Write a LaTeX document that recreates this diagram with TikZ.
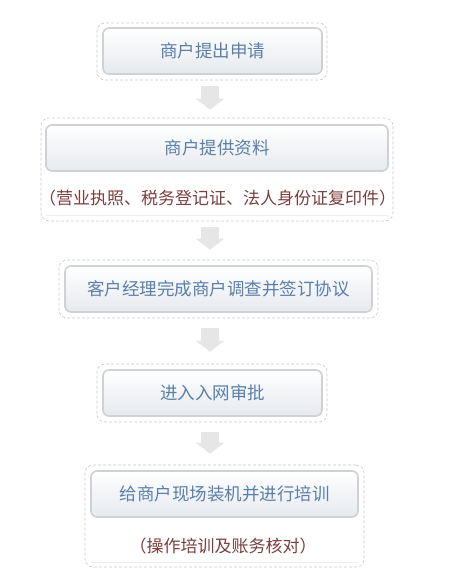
\documentclass[tikz,border=0pt]{standalone}
\usepackage{fontspec}
\newfontfamily\cjk{Noto Sans CJK SC}
\usepackage{tikz}
\usetikzlibrary{calc,arrows.meta}
\definecolor{stepblue}{HTML}{5A80AA}
\definecolor{notered}{HTML}{7A3E3E}
\definecolor{dashgray}{HTML}{C8C8C8}
\definecolor{edgegray}{HTML}{CFD1D5}
\definecolor{boxbottom}{HTML}{E6E9EE}
\definecolor{arrowgray}{HTML}{E6E6E6}
\definecolor{linegray}{HTML}{EEEEEE}

\begin{document}
\begin{tikzpicture}[x=1pt,y=-1pt,
       outerbox/.style={draw=dashgray,dash pattern=on 3pt off 2pt,line width=0.6pt,
           rounded corners=8pt,minimum width=#1},
       stepbox/.style={draw=edgegray,line width=1.6pt,rounded corners=6pt,
           top color=white,bottom color=boxbottom,minimum height=46pt,
           minimum width=#1,text=stepblue,font=\cjk\fontsize{17.5}{21}\selectfont},
       notetext/.style={text=notered,font=\cjk\fontsize{17}{20}\selectfont},
       bigarrow/.style={draw=arrowgray,line width=18pt,
           -{Triangle[width=28pt,length=11pt]}}]
       \useasboundingbox(0,0)rectangle(457,580);%画布

       \node[outerbox=230pt,minimum height=57pt](o1)at(212,51.5){};%外框1
       \node[stepbox=219pt](b1)at(212.5,51){商户提出申请};%商户提出申请

       \node[outerbox=352pt,minimum height=103pt](o2)at(217,169.5){};%外框2
       \node[stepbox=342pt](b2)at(217,148){商户提供资料};%商户提供资料
       \node[notetext](n2)at(217.5,198){（营业执照、税务登记证、法人身份证复印件）};%说明2
       \draw[linegray,line width=0.8pt]($(o2.south west)+(5,-6)$)--($(o2.south east)+(-5,-6)$);%分隔线

       \node[outerbox=319pt,minimum height=58pt](o3)at(218.5,289){};%外框3
       \node[stepbox=307pt](b3)at(218.5,289){客户经理完成商户调查并签订协议};%调查签约

       \node[outerbox=230pt,minimum height=58pt](o4)at(212,393){};%外框4
       \node[stepbox=219pt](b4)at(212.5,393){进入入网审批};%入网审批

       \node[outerbox=279pt,minimum height=102pt](o5)at(224.5,516){};%外框5
       \node[stepbox=267pt](b5)at(224.5,494){给商户现场装机并进行培训};%装机培训
       \node[notetext](n5)at(223,546){（操作培训及账务核对）};%说明5
       \draw[linegray,line width=0.8pt]($(o5.south west)+(6,-5)$)--($(o5.south east)+(-6,-5)$);%分隔线

       \draw[bigarrow]($(o1.south)+(-2,6)$)--($(o2.north)+(-7,-8)$);%箭头1
       \draw[bigarrow]($(o2.south)+(-7,6)$)--($(o3.north)+(-8.5,-10)$);%箭头2
       \draw[bigarrow]($(o3.south)+(-8.5,10)$)--($(o4.north)+(-2,-12)$);%箭头3
       \draw[bigarrow]($(o4.south)+(-2,10)$)--($(o5.north)+(-14.5,-11)$);%箭头4

      \end{tikzpicture}
\end{document}
